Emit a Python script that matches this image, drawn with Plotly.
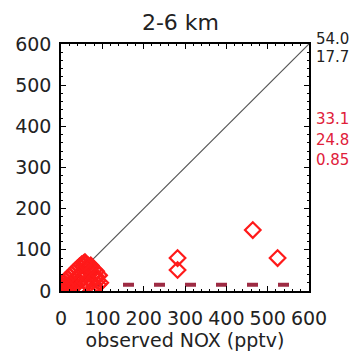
import plotly.graph_objects as go

# Observed vs modelled NOx, 2-6 km layer (pptv)
obs_cluster = [0, 1, 3, 5, 8, 10, 12, 15, 18, 20, 22, 25, 28, 30, 32, 35, 38, 40, 42, 45,
               48, 50, 52, 55, 58, 60, 62, 65, 68, 70, 72, 75, 78, 80, 82, 85, 88, 90, 92,
               95, 6, 10, 15, 20, 25, 30, 35, 40, 45, 12, 3, 50, 60, 70, 80, 85, 65, 55]
mod_cluster = [2, 4, 9, 3, 5, 8, 4, 10, 6, 15, 3, 12, 20, 8, 25, 15, 30, 5, 22, 35,
               12, 45, 28, 60, 70, 40, 18, 55, 30, 50, 62, 22, 40, 10, 32, 48, 25, 15, 38,
               20, 18, 25, 30, 35, 40, 45, 50, 55, 60, 14, 9, 65, 65, 58, 52, 35, 62, 68]
obs_outer = [282, 282, 464, 524]
mod_outer = [80, 51, 148, 80]

obs_nox = obs_cluster + obs_outer
mod_nox = mod_cluster + mod_outer

axis_range = [0, 600]
tick_vals = [0, 100, 200, 300, 400, 500, 600]
fit_level = 15

stats_black = ["54.0", "17.7"]
stats_red = ["33.1", "24.8", "0.85"]

FONT = "DejaVu Sans"

fig = go.Figure()

# 1:1 reference line
fig.add_trace(go.Scatter(x=axis_range, y=axis_range, mode="lines",
                         line=dict(color="#555555", width=1.2), hoverinfo="skip"))

# fitted line
fig.add_trace(go.Scatter(x=axis_range, y=[fit_level, fit_level], mode="lines",
                         line=dict(color="#9e2c44", width=4, dash="11px,20px"),
                         hoverinfo="skip"))

# sample points
fig.add_trace(go.Scatter(x=obs_nox, y=mod_nox, mode="markers",
                         marker=dict(symbol="diamond-open", size=12, color="#ff1a1a",
                                     line=dict(width=2.2, color="#ff1a1a"))))

axis_common = dict(range=axis_range, tickvals=tick_vals, ticks="inside", ticklen=5,
                   tickwidth=1, tickcolor="black", showline=True, linecolor="black",
                   linewidth=1.5, mirror="ticks", showgrid=False, zeroline=False,
                   tickfont=dict(family=FONT, size=19, color="#222222"),
                   minor=dict(dtick=20, ticks="inside", ticklen=2, tickcolor="black"))

fig.update_xaxes(**axis_common, tickangle=0, ticklabelstandoff=9,
                 title=dict(text="observed NOX (pptv)", standoff=4,
                            font=dict(family=FONT, size=19, color="#222222")))
fig.update_yaxes(**axis_common, ticklabelstandoff=4)

for i, t in enumerate(stats_black):
    fig.add_annotation(text=t, xref="paper", yref="paper", x=1.022,
                       y=(291 - (39 + 18 * i)) / 247, xanchor="left", yanchor="middle",
                       showarrow=False, font=dict(family=FONT, size=15, color="#222222"))
for i, t in enumerate(stats_red):
    fig.add_annotation(text=t, xref="paper", yref="paper", x=1.022,
                       y=(291 - (119 + 20.5 * i)) / 247, xanchor="left", yanchor="middle",
                       showarrow=False, font=dict(family=FONT, size=15, color="#e0203a"))

fig.update_layout(
    width=361, height=358,
    margin=dict(l=61, r=52, t=44, b=67),
    paper_bgcolor="white", plot_bgcolor="white",
    showlegend=False,
    title=dict(text="2-6 km", x=0.5, xanchor="center", y=1 - 22 / 358, yanchor="middle",
               font=dict(family=FONT, size=22, color="#222222")),
)

fig.write_html("out.html")
